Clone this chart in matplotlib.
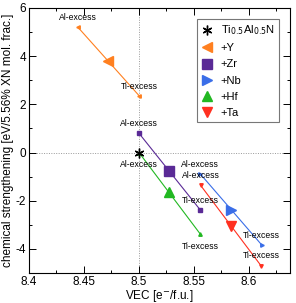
import matplotlib
matplotlib.use("Agg")
import matplotlib.pyplot as plt
from matplotlib.ticker import MultipleLocator

plt.rcParams['font.family'] = ['Liberation Sans', 'DejaVu Sans']
plt.rcParams['axes.unicode_minus'] = False

# data: (Al-excess end, dopant marker, Ti-excess end)
names = ['+Y', '+Zr', '+Nb', '+Hf', '+Ta']
colors = ['#ff8020', '#5a2a96', '#3a6ee8', '#22b822', '#ff3020']
markers = ['<', 's', '>', '^', 'v']
al_vec = [8.4445, 8.500, 8.5555, 8.500, 8.556]
al_val = [5.20, 0.80, -0.875, 0.0, -1.36]
mid_vec = [8.4715, 8.5275, 8.5833, 8.5275, 8.5833]
mid_val = [3.78, -0.78, -2.375, -1.64, -3.03]
ti_vec = [8.5003, 8.5555, 8.6115, 8.5555, 8.611]
ti_val = [2.35, -2.37, -3.83, -3.37, -4.70]

ref_vec = [8.5]
ref_val = [0.0]

# labels: text, x, y, offset (pixels)
lab_text = ['Al-excess', 'Ti-excess', 'Al-excess', 'Al-excess', 'Ti-excess', 'Ti-excess',
            'Al-excess', 'Al-excess', 'Ti-excess', 'Ti-excess']
lab_x = [8.4445, 8.5003, 8.500, 8.500, 8.5555, 8.5555, 8.5555, 8.556, 8.6115, 8.611]
lab_y = [5.20, 2.35, 0.80, 0.0, -2.37, -3.37, -0.875, -1.36, -3.83, -4.70]
lab_dy = [5, 5, 5, -7, 5, -8, 5, 5, 5, 6]

fig = plt.figure(figsize=(2.96, 3.03), dpi=100)
ax = fig.add_axes([29/296, 1 - 273/303, (290-29)/296, (273-8)/303])

ax.axvline(8.5, color='#999999', lw=0.7, ls=(0, (1, 1.5)), zorder=0)
ax.axhline(0.0, color='#999999', lw=0.7, ls=(0, (1, 1.5)), zorder=0)

ax.plot(ref_vec, ref_val, marker=(6, 2, 0), color='black', ms=7, mew=1.0,
        ls='none', label=r'Ti$_{0.5}$Al$_{0.5}$N', zorder=5)

for i in range(len(names)):
    ax.plot([al_vec[i], ti_vec[i]], [al_val[i], ti_val[i]], color=colors[i], lw=0.8,
            marker=markers[i], ms=2.5, zorder=2)
    ax.plot([mid_vec[i]], [mid_val[i]], color=colors[i], marker=markers[i], ms=7,
            ls='none', label=names[i], zorder=3)

for t, x, y, dy in zip(lab_text, lab_x, lab_y, lab_dy):
    ax.annotate(t, (x, y), xytext=(0, dy), textcoords='offset pixels',
                ha='center', va='bottom' if dy > 0 else 'top', fontsize=6.2, zorder=4)

ax.set_xlim(8.4, 8.6373)
ax.set_ylim(-5, 6)
ax.xaxis.set_minor_locator(MultipleLocator(0.025))
ax.yaxis.set_major_locator(MultipleLocator(2))
ax.yaxis.set_minor_locator(MultipleLocator(1))
ax.set_xticks([8.4, 8.45, 8.5, 8.55, 8.6])
ax.set_xticklabels(['8.4', '8.45', '8.5', '8.55', '8.6'])
ax.tick_params(which='both', direction='in', top=True, right=True, labelsize=8.5)
ax.tick_params(which='major', length=5, width=0.7, pad=2)
ax.tick_params(which='minor', length=2.5, width=0.7)
for s in ax.spines.values():
    s.set_linewidth(0.8)

ax.set_xlabel(r'VEC [e$^{-}$/f.u.]', fontsize=8.5, labelpad=0)
ax.set_ylabel('chemical strengthening [eV/5.56% XN mol. frac.]', fontsize=8.5, labelpad=1)

leg = ax.legend(loc='upper right', fontsize=8.0,
                frameon=True, fancybox=False, edgecolor='#555555', handlelength=1.0,
                handletextpad=0.7, borderpad=0.4, labelspacing=0.55, borderaxespad=0)
leg.get_frame().set_linewidth(0.8)
leg.set_bbox_to_anchor(((279-29)/261, (273-19)/265), transform=ax.transAxes)

fig.savefig('out.png', dpi=100)
